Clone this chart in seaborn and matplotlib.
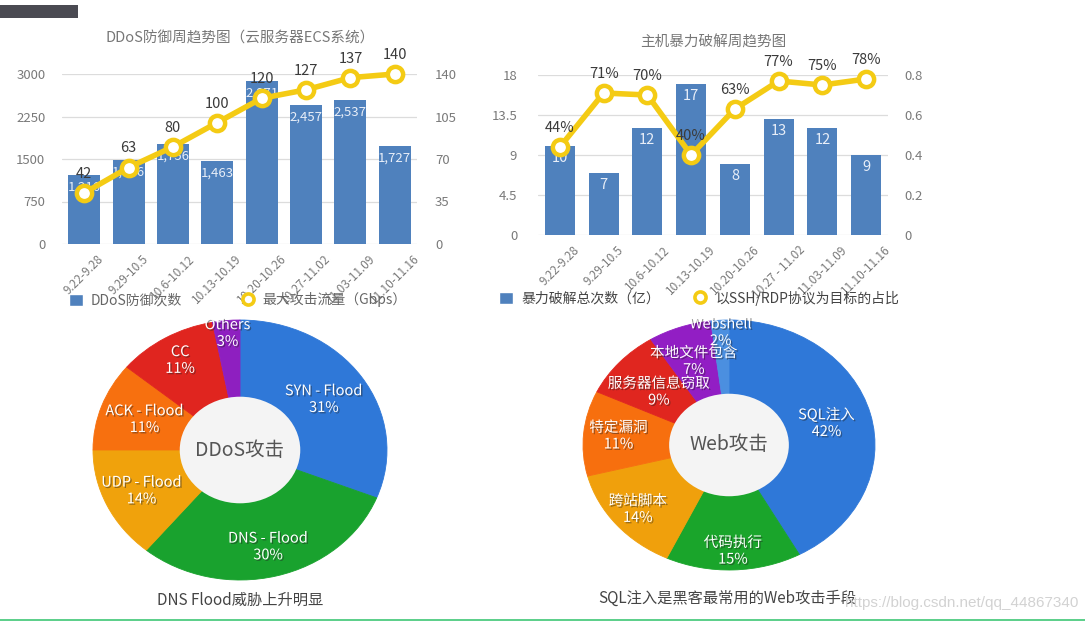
import numpy as np
import matplotlib
matplotlib.use("Agg")
import matplotlib.pyplot as plt
import matplotlib.patheffects as pe
from matplotlib.patches import Rectangle, Circle, Patch
from matplotlib.lines import Line2D
import seaborn as sns

# ---------------- data ----------------
weeks_ddos = ["9.22-9.28", "9.29-10.5", "10.6-10.12", "10.13-10.19",
              "10.20-10.26", "10.27-11.02", "11.03-11.09", "11.10-11.16"]
ddos_counts = [1216, 1486, 1756, 1463, 2871, 2457, 2537, 1727]
ddos_peak_gbps = [42, 63, 80, 100, 120, 127, 137, 140]

weeks_brute = ["9.22-9.28", "9.29-10.5", "10.6-10.12", "10.13-10.19",
               "10.20-10.26", "10.27 - 11.02", "11.03-11.09", "11.10-11.16"]
brute_counts = [10, 7, 12, 17, 8, 13, 12, 9]
ssh_rdp_share = [0.44, 0.71, 0.70, 0.40, 0.63, 0.77, 0.75, 0.78]

ddos_types = ["SYN - Flood", "DNS - Flood", "UDP - Flood", "ACK - Flood", "CC", "Others"]
ddos_share = [31, 30, 14, 11, 11, 3]

web_types = ["SQL注入", "代码执行", "跨站脚本", "特定漏洞", "服务器信息窃取", "本地文件包含", "Webshell"]
web_share = [42, 15, 14, 11, 9, 7, 2]

# ---------------- style ----------------
sns.set_theme(style="white")
plt.rcParams["font.family"] = ["Noto Sans CJK SC", "DejaVu Sans"]

W, H = 1085, 621
fig = plt.figure(figsize=(W / 100, H / 100), dpi=100)
fig.patch.set_facecolor("white")

BAR = "#4F81BD"
YEL = "#F4CB14"
GRID = "#dcdcdc"
TICK = "#7a7a7a"


def px_axes(x0, y0, x1, y1):
    return fig.add_axes([x0 / W, 1 - y1 / H, (x1 - x0) / W, (y1 - y0) / H])


def combo(ax, cats, bars, line, ylim_l, yt_l, ytl_l, ylim_r, yt_r, ytl_r,
          bar_fmt, line_fmt, bar_fs, lpad, rpad, bw):
    sns.barplot(x=cats, y=bars, color=BAR, saturation=1, width=bw, ax=ax,
                edgecolor="none")
    ax.set_ylim(*ylim_l)
    ax.set_yticks(yt_l)
    ax.set_yticklabels(ytl_l)
    ax.yaxis.grid(True, color=GRID, lw=0.9)
    ax.xaxis.grid(False)
    ax.set_axisbelow(True)
    for s in ax.spines.values():
        s.set_visible(False)
    ax.set_xlabel("")
    ax.set_ylabel("")
    ax.tick_params(axis="y", length=0, pad=lpad, labelsize=9.5, labelcolor=TICK)
    ax.tick_params(axis="x", length=0, pad=6, labelsize=8.5, labelcolor=TICK)
    for i, v in enumerate(bars):
        ax.annotate(bar_fmt(v), (i, v), xytext=(0, -12), textcoords="offset pixels",
                    ha="center", va="center", color="#e8eef8", fontsize=bar_fs)
    ax2 = ax.twinx()
    sns.lineplot(x=np.arange(len(line)), y=line, ax=ax2, color=YEL, lw=4,
                 marker="o", ms=11, mfc="white", mec=YEL, mew=3.2, clip_on=False,
                 sort=False)
    ax2.set_ylim(*ylim_r)
    ax2.set_yticks(yt_r)
    ax2.set_yticklabels(ytl_r)
    ax2.grid(False)
    for s in ax2.spines.values():
        s.set_visible(False)
    ax2.set_ylabel("")
    ax2.tick_params(axis="y", length=0, pad=rpad, labelsize=9.5, labelcolor=TICK)
    for i, v in enumerate(line):
        ax2.annotate(line_fmt(v), (i, v), xytext=(0, 19), textcoords="offset pixels",
                     ha="center", va="center", color="#3a3a3a", fontsize=10.5)
    ax.set_xlim(-0.5, len(cats) - 0.5)
    ax.set_xticks(range(len(cats)))
    ax.set_xticklabels(cats, rotation=45, ha="center")
    return ax2


# ---------------- top-left combo ----------------
ax1 = px_axes(62, 74, 417, 244)
combo(ax1, weeks_ddos, ddos_counts, ddos_peak_gbps,
      (0, 3000), [0, 750, 1500, 2250, 3000], ["0", "750", "1500", "2250", "3000"],
      (0, 140), [0, 35, 70, 105, 140], ["0", "35", "70", "105", "140"],
      lambda v: f"{v:,}", lambda v: f"{v}", 9.5, 12, 13, 0.72)
fig.text(240 / W, 1 - 38 / H, "DDoS防御周趋势图（云服务器ECS系统）", ha="center",
         va="center", fontsize=10.5, color="#777777")

# ---------------- top-right combo ----------------
ax3 = px_axes(538, 75, 888, 235)
combo(ax3, weeks_brute, brute_counts, ssh_rdp_share,
      (0, 18), [0, 4.5, 9, 13.5, 18], ["0", "4.5", "9", "13.5", "18"],
      (0, 0.8), [0, 0.2, 0.4, 0.6, 0.8], ["0", "0.2", "0.4", "0.6", "0.8"],
      lambda v: f"{v}", lambda v: f"{round(v * 100)}%", 10.5, 15, 12, 0.69)
fig.text(713 / W, 1 - 42 / H, "主机暴力破解周趋势图", ha="center", va="center",
         fontsize=10.5, color="#777777")

# ---------------- legends ----------------
def ring():
    return Line2D([], [], linestyle="none", marker="o", ms=8, mfc="white",
                  mec=YEL, mew=2.6)

fig.legend([Patch(facecolor=BAR), ring()], ["DDoS防御次数", "最大攻击流量（Gbps）"],
           loc="center", bbox_to_anchor=(238 / W, 1 - 300 / H), ncol=2, frameon=False,
           fontsize=10, columnspacing=4.2, handlelength=1.0, handleheight=1.0,
           handletextpad=0.6, labelcolor="#666666")
fig.legend([Patch(facecolor=BAR), ring()], ["暴力破解总次数（亿）", "以SSH/RDP协议为目标的占比"],
           loc="center", bbox_to_anchor=(699 / W, 1 - 298 / H), ncol=2, frameon=False,
           fontsize=10, columnspacing=2.4, handlelength=1.0, handleheight=1.0,
           handletextpad=0.6, labelcolor="#444444")

# ---------------- donuts ----------------
shadow = [pe.withSimplePatchShadow(offset=(1, -1), shadow_rgbFace="#222222", alpha=0.45)]


def donut(ax, vals, names, colors, dists, center_text, caption, cap_xy):
    wedges, _ = ax.pie(vals, colors=colors, startangle=90, counterclock=False,
                       radius=1, wedgeprops=dict(width=0.6, edgecolor="none",
                                                 linewidth=0))
    for w in wedges:
        w.set_edgecolor(w.get_facecolor())
        w.set_linewidth(0.6)
    ax.add_patch(Circle((0, 0), 0.41, facecolor="#f4f4f4", edgecolor="none", zorder=3))
    ax.set_aspect("auto")
    ax.set_xlim(-1, 1)
    ax.set_ylim(-1, 1)
    ax.axis("off")
    for w, n, v, r in zip(wedges, names, vals, dists):
        th = np.deg2rad((w.theta1 + w.theta2) / 2)
        ax.text(r * np.cos(th), r * np.sin(th), f"{n}\n{v}%", ha="center", va="center",
                color="white", fontsize=10.5, linespacing=1.25, zorder=5,
                path_effects=shadow)
    ax.text(0, 0, center_text, ha="center", va="center", fontsize=14,
            color="#555555", zorder=6)
    fig.text(cap_xy[0] / W, 1 - cap_xy[1] / H, caption, ha="center", va="center",
             fontsize=11, color="#444444")


axp1 = px_axes(93, 320, 387, 580)
donut(axp1, ddos_share, ddos_types,
      ["#2F78D8", "#19A22E", "#F0A20C", "#F7700F", "#E0251F", "#8E1FC0"],
      [0.69, 0.77, 0.74, 0.69, 0.80, 0.90], "DDoS攻击", "DNS Flood威胁上升明显", (240, 600))

axp2 = px_axes(583, 320, 875, 570)
donut(axp2, web_share, web_types,
      ["#2F78D8", "#1AA52B", "#F0A00C", "#F76F0E", "#E0261F", "#921EC4", "#4B8FE0"],
      [0.69, 0.85, 0.81, 0.76, 0.64, 0.71, 0.90], "Web攻击",
      "SQL注入是黑客最常用的Web攻击手段", (727, 598))

# ---------------- decorations ----------------
fig.patches.append(Rectangle((0, 1 - 18 / H), 78 / W, 13 / H, transform=fig.transFigure,
                             facecolor="#4a4a52", edgecolor="none"))
fig.patches.append(Rectangle((0, 0), 1, 2 / H, transform=fig.transFigure,
                             facecolor="#5ed08c", edgecolor="none"))
fig.text(1078 / W, 1 - 603 / H, "https://blog.csdn.net/qq_44867340", ha="right",
         va="center", fontsize=11, color="#d2d2d2", family="Liberation Sans")

fig.savefig("out.png", dpi=100)
